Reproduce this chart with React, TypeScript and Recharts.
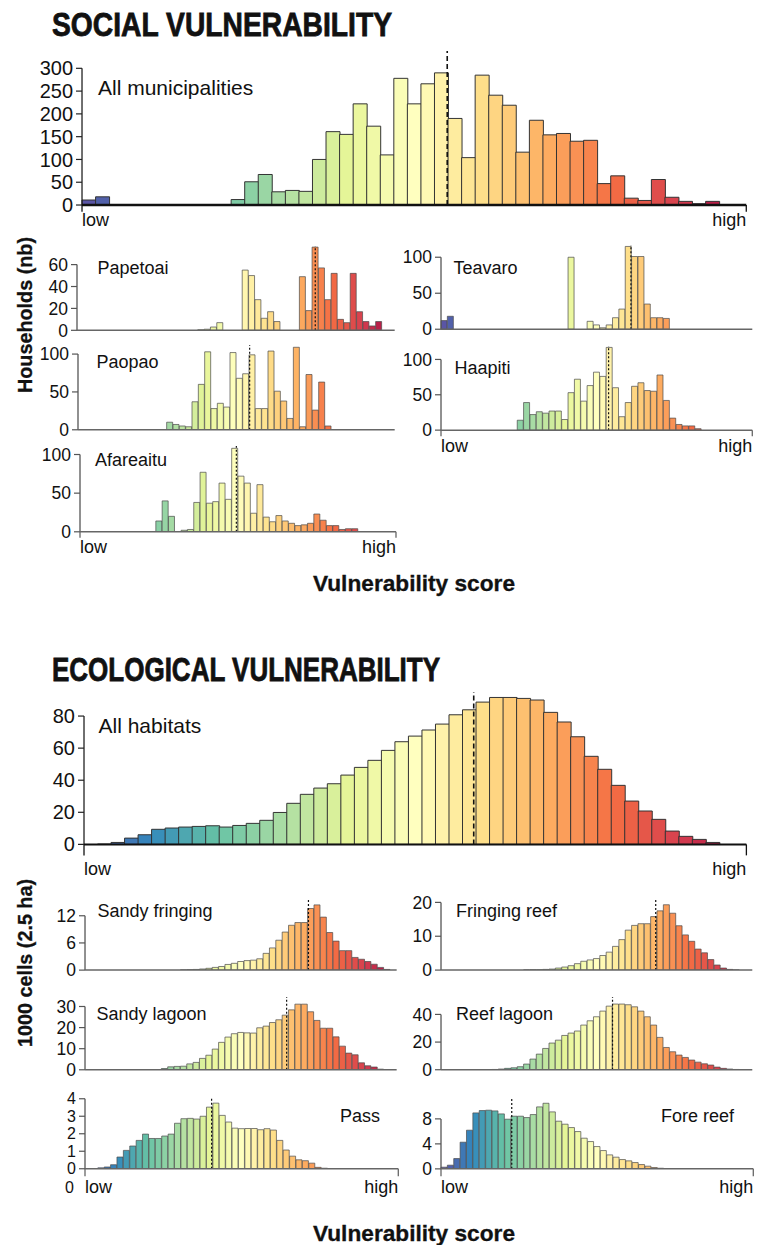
import React from 'react';
import { BarChart, Bar, XAxis, YAxis, Cell, ReferenceLine } from 'recharts';

// Spectral palette, low score -> high score
const SPECTRAL = ['#5E4FA2', '#3288BD', '#66C2A5', '#ABDDA4', '#E6F598', '#FFFFBF', '#FEE08B', '#FDAE61', '#F46D43', '#D53E4F', '#9E0142'];

// ---- social vulnerability (households per bin) ----
const socialAllStart = 0;
const socialAllCounts = [11, 18, 0, 0, 0, 0, 0, 0, 0, 0, 0, 12, 51, 67, 29, 32, 30, 100, 161, 155, 222, 173, 110, 278, 222, 266, 290, 190, 104, 285, 241, 219, 116, 186, 154, 157, 140, 142, 47, 64, 15, 10, 56, 17, 8, 3, 8];
const socialAllMean = 26.94;

const papetoaiStart = 19;
const papetoaiCounts = [0.5, 1, 3, 7, 0, 0, 0, 55, 50, 28, 11, 17, 8, 0, 0, 0, 49, 18, 76, 57, 28, 52, 10, 7, 52, 17, 8, 4, 8];
const papetoaiMean = 37.5;

const paopaoStart = 14;
const paopaoCounts = [10, 7, 5, 4, 37, 60, 103, 28, 35, 30, 102, 68, 74, 99, 28, 28, 104, 51, 38, 15, 109, 4, 73, 26, 63, 5];
const paopaoMean = 27.1;

const afareaituStart = 12;
const afareaituCounts = [14, 40, 20, 0, 2, 3, 38, 77, 37, 39, 63, 42, 108, 72, 63, 24, 61, 19, 13, 21, 14, 11, 8, 9, 11, 23, 15, 8, 8, 3, 4, 4];
const afareaituMean = 24.74;

const teavaroStart = 0;
const teavaroCounts = [12, 18, 0, 0, 0, 0, 0, 0, 0, 0, 0, 0, 0, 0, 0, 0, 0, 0, 0, 0, 100, 0, 0, 11, 6, 2, 6, 16, 28, 115, 101, 101, 35, 16, 16, 15];
const teavaroMean = 29.9;

const haapitiStart = 12;
const haapitiCounts = [14, 39, 22, 26, 24, 27, 27, 15, 53, 72, 41, 63, 82, 76, 117, 60, 19, 39, 62, 67, 56, 55, 78, 42, 17, 8, 6, 6, 2];
const haapitiMean = 26.38;

// ---- ecological vulnerability (1000 cells per bin) ----
const ecoAllStart = 0;
const ecoAllCounts = [0, 0.2, 1.2, 3.9, 6.0, 9.4, 10.2, 10.8, 11.2, 11.6, 10.8, 11.8, 13.1, 15.0, 19.9, 25.6, 31.2, 35.1, 37.8, 43.2, 48.0, 52.4, 58.6, 64.0, 67.5, 71.3, 75.0, 80.8, 83.9, 88.7, 91.6, 91.6, 91.0, 90.0, 82.3, 76.3, 67.1, 54.9, 46.8, 36.8, 27.0, 20.8, 15.6, 8.3, 5.0, 3.1, 1.2];
const ecoAllMean = 28.83;

const sandyFringingStart = 15;
const sandyFringingCounts = [0.05, 0.1, 0.15, 0.25, 0.4, 0.6, 0.8, 1.25, 1.5, 1.9, 2.1, 2.2, 2.5, 3.7, 4.9, 6.6, 8.4, 9.9, 10.5, 10.5, 13.6, 14.4, 11.7, 8.3, 6.4, 4.3, 4.3, 2.8, 2.4, 1.9, 1.3, 0.6, 0.15];
const sandyFringingMean = 35.13;

const sandyLagoonStart = 11;
const sandyLagoonCounts = [0.1, 0.6, 1.4, 1.6, 1.7, 2.8, 3.5, 5.4, 6.9, 9.8, 13.0, 15.5, 17.1, 17.7, 17.5, 17.4, 19.9, 20.7, 22.4, 23.7, 25.9, 28.4, 31.1, 31.1, 27.5, 23.4, 19.7, 19.7, 15.6, 11.2, 7.9, 7.1, 3.3, 1.9, 1.3, 0.3];
const sandyLagoonMean = 31.7;

const passStart = 2;
const passCounts = [0.05, 0.1, 0.23, 0.67, 1.05, 1.3, 1.62, 1.98, 1.73, 1.73, 1.87, 1.98, 2.6, 2.86, 2.88, 2.84, 3.0, 3.52, 3.75, 3.05, 2.67, 2.32, 2.29, 2.3, 2.3, 2.23, 2.29, 2.21, 1.62, 1.07, 0.72, 0.51, 0.46, 0.32, 0.08, 0.03];
const passMean = 19.8;

const fringingReefStart = 13;
const fringingReefCounts = [0.05, 0.1, 0.1, 0.2, 0.3, 0.6, 0.9, 1.3, 1.9, 2.6, 3.0, 3.4, 4.3, 5.3, 7.0, 9.0, 11.8, 13.2, 13.7, 13.7, 15.8, 17.5, 19.3, 16.8, 13.1, 10.4, 8.5, 6.2, 5.1, 3.1, 1.5, 0.6, 0.2, 0.05];
const fringingReefMean = 33.8;

const reefLagoonStart = 8;
const reefLagoonCounts = [0.2, 0.5, 1.0, 1.4, 2.2, 4.1, 7.7, 11.3, 15.4, 19.3, 21.4, 24.8, 26.5, 28.0, 32.3, 35.4, 38.3, 42.4, 46.0, 47.5, 47.5, 47.0, 45.5, 42.4, 38.3, 32.3, 23.4, 16.1, 13.0, 10.6, 8.9, 7.0, 5.5, 4.3, 3.4, 1.9, 1.0, 0.5, 0.2];
const reefLagoonMean = 27.0;

const foreReefStart = 0;
const foreReefCounts = [0.27, 0.59, 1.65, 4.27, 6.19, 8.96, 9.33, 9.39, 9.28, 8.8, 7.95, 8.43, 8.43, 8.21, 8.69, 9.92, 10.5, 9.12, 7.63, 7.15, 6.61, 5.97, 4.91, 4.37, 3.57, 2.93, 2.24, 1.87, 1.49, 1.28, 1.01, 0.69, 0.43, 0.21, 0.1];
const foreReefMean = 11.1;

const FONT = "'Liberation Sans', Arial, Helvetica, sans-serif";

function hexToRgb(h: string) {
  const n = parseInt(h.slice(1), 16);
  return [(n >> 16) & 255, (n >> 8) & 255, n & 255];
}

function spectralAt(t: number) {
  const s = Math.max(0, Math.min(1, t)) * (SPECTRAL.length - 1);
  const i = Math.min(Math.floor(s), SPECTRAL.length - 2);
  const f = s - i;
  const a = hexToRgb(SPECTRAL[i]);
  const b = hexToRgb(SPECTRAL[i + 1]);
  const c = a.map((v, k) => Math.round(v + (b[k] - v) * f));
  return `rgb(${c[0]},${c[1]},${c[2]})`;
}

type LowHigh = { tickLen: number; offset: number };

type PanelProps = {
  counts: number[];
  start: number;
  nBins: number;
  mean: number;
  x0: number;
  x1: number;
  y0: number;
  ppu: number;
  yMax: number;
  yTicks: number[];
  tickFont: number;
  main?: 'social' | 'eco';
  lowHigh?: LowHigh;
};

function Panel(p: PanelProps) {
  const YW = 50;
  const mt = 12;
  const mb = 14;
  const mr = 12;
  const xh = p.lowHigh ? 40 : 1;
  const plotH = p.yMax * p.ppu;
  const plotW = p.x1 - p.x0;
  const width = YW + plotW + mr;
  const height = mt + plotH + xh + mb;
  const left = p.x0 - YW;
  const top = p.y0 - plotH - mt;

  const data = Array.from({ length: p.nBins }, (_, i) => ({
    bin: i,
    pos: i + 0.5,
    v: i >= p.start && i < p.start + p.counts.length ? p.counts[i - p.start] : 0,
  }));

  const axisColor = p.main ? '#111' : '#666';
  const axisWidth = p.main === 'social' ? 2.6 : p.main === 'eco' ? 2 : 1.5;
  const yLineColor = p.main ? '#222' : '#555';
  const lh = p.lowHigh;

  const LowHighTick = (props: any) => {
    const { x, y, payload } = props;
    const isLow = payload.value === 0;
    const base = y - (lh ? lh.tickLen : 0) + (lh ? lh.offset : 0);
    return (
      <text x={x} y={base} textAnchor={isLow ? 'start' : 'end'} fontSize={18} fontFamily={FONT} fill="#111">
        {isLow ? 'low' : 'high'}
      </text>
    );
  };

  return (
    <div style={{ position: 'absolute', left, top, width, height }}>
      <BarChart
        width={width}
        height={height}
        data={data}
        margin={{ top: mt, right: mr, bottom: mb, left: 0 }}
        barCategoryGap={0}
        barGap={0}
      >
        <XAxis xAxisId="c" dataKey="bin" type="category" orientation="top" height={0} hide />
        <XAxis
          xAxisId="n"
          dataKey="pos"
          type="number"
          domain={[0, p.nBins]}
          allowDataOverflow
          height={xh}
          ticks={lh ? [0, p.nBins] : []}
          interval={0}
          tick={lh ? <LowHighTick /> : false}
          tickLine={lh ? { stroke: axisColor, strokeWidth: 1.3 } : false}
          tickSize={lh ? lh.tickLen : 0}
          tickMargin={0}
          axisLine={{ stroke: axisColor, strokeWidth: axisWidth }}
        />
        <YAxis
          width={YW}
          type="number"
          domain={[0, p.yMax]}
          allowDataOverflow
          ticks={p.yTicks}
          interval={0}
          axisLine={false}
          tickLine={{ stroke: yLineColor, strokeWidth: 1.2 }}
          tickSize={6}
          tickMargin={3}
          tick={{ fontSize: p.tickFont, fill: '#111', fontFamily: FONT }}
        />
        <Bar
          dataKey="v"
          xAxisId="c"
          isAnimationActive={false}
          stroke={p.main ? '#333' : '#4a4a4a'}
          strokeWidth={p.main ? 1 : 0.7}
        >
          {data.map((d) => (
            <Cell key={`b-${d.bin}`} fill={spectralAt((d.bin + 0.5) / p.nBins)} />
          ))}
        </Bar>
        <ReferenceLine
          xAxisId="n"
          ifOverflow="visible"
          segment={[{ x: 0, y: 0 }, { x: 0, y: p.yTicks[p.yTicks.length - 1] }]}
          stroke={yLineColor}
          strokeWidth={1.3}
        />
        <ReferenceLine
          xAxisId="n"
          x={p.mean}
          stroke="#111"
          strokeWidth={p.main ? 1.6 : 1.2}
          strokeDasharray={p.main ? '5 3' : '2 2'}
        />
      </BarChart>
    </div>
  );
}

const panelLabels = [
  { text: 'All municipalities', x: 98, y: 94.5, size: 21, anchor: 'start' },
  { text: 'Papetoai', x: 97.5, y: 273.5, size: 18, anchor: 'start' },
  { text: 'Paopao', x: 96.5, y: 367.5, size: 18, anchor: 'start' },
  { text: 'Afareaitu', x: 95, y: 466, size: 18, anchor: 'start' },
  { text: 'Teavaro', x: 453.5, y: 273.5, size: 18, anchor: 'start' },
  { text: 'Haapiti', x: 454.5, y: 373.5, size: 18, anchor: 'start' },
  { text: 'All habitats', x: 98.5, y: 732.5, size: 21, anchor: 'start' },
  { text: 'Sandy fringing', x: 97.5, y: 917, size: 18, anchor: 'start' },
  { text: 'Sandy lagoon', x: 96.5, y: 1019.5, size: 18, anchor: 'start' },
  { text: 'Fringing reef', x: 456, y: 917, size: 18, anchor: 'start' },
  { text: 'Reef lagoon', x: 456, y: 1019.5, size: 18, anchor: 'start' },
  { text: 'Pass', x: 380, y: 1122, size: 18, anchor: 'end' },
  { text: 'Fore reef', x: 734, y: 1122, size: 18, anchor: 'end' },
];

export default function App() {
  const smallLH = { tickLen: 6, offset: 21.5 };
  return (
    <div style={{ position: 'absolute', left: 0, top: 0, width: 758, height: 1245, background: '#fff', overflow: 'hidden' }}>
      {/* social */}
      <Panel counts={socialAllCounts} start={socialAllStart} nBins={49} mean={socialAllMean}
        x0={81.7} x1={746} y0={205} ppu={0.4557} yMax={338} yTicks={[0, 50, 100, 150, 200, 250, 300]}
        tickFont={20} main="social" lowHigh={{ tickLen: 6.7, offset: 21 }} />
      <Panel counts={papetoaiCounts} start={papetoaiStart} nBins={50} mean={papetoaiMean}
        x0={77.3} x1={395} y0={330} ppu={1.095} yMax={77} yTicks={[0, 20, 40, 60]} tickFont={17.5} />
      <Panel counts={paopaoCounts} start={paopaoStart} nBins={50} mean={paopaoMean}
        x0={78.3} x1={395} y0={430} ppu={0.757} yMax={112} yTicks={[0, 50, 100]} tickFont={17.5} />
      <Panel counts={afareaituCounts} start={afareaituStart} nBins={50} mean={afareaituMean}
        x0={80} x1={396} y0={531.7} ppu={0.773} yMax={111} yTicks={[0, 50, 100]} tickFont={17.5} lowHigh={smallLH} />
      <Panel counts={teavaroCounts} start={teavaroStart} nBins={49} mean={teavaroMean}
        x0={441} x1={752.3} y0={329.3} ppu={0.72} yMax={117} yTicks={[0, 50, 100]} tickFont={17.5} />
      <Panel counts={haapitiCounts} start={haapitiStart} nBins={49} mean={haapitiMean}
        x0={441} x1={752.3} y0={430} ppu={0.707} yMax={119} yTicks={[0, 50, 100]} tickFont={17.5} lowHigh={smallLH} />

      {/* ecological */}
      <Panel counts={ecoAllCounts} start={ecoAllStart} nBins={49} mean={ecoAllMean}
        x0={84.3} x1={746.7} y0={844.3} ppu={1.604} yMax={95} yTicks={[0, 20, 40, 60, 80]}
        tickFont={20} main="eco" lowHigh={{ tickLen: 11, offset: 30.4 }} />
      <Panel counts={sandyFringingCounts} start={sandyFringingStart} nBins={49} mean={sandyFringingMean}
        x0={85} x1={396.7} y0={970.3} ppu={4.53} yMax={15.7} yTicks={[0, 6, 12]} tickFont={17.5} />
      <Panel counts={sandyLagoonCounts} start={sandyLagoonStart} nBins={49} mean={sandyLagoonMean}
        x0={85} x1={396.7} y0={1070} ppu={2.11} yMax={34.5} yTicks={[0, 10, 20, 30]} tickFont={17.5} />
      <Panel counts={passCounts} start={passStart} nBins={49} mean={passMean}
        x0={84.7} x1={398} y0={1169} ppu={17.5} yMax={4.1} yTicks={[0, 1, 2, 3, 4]} tickFont={16}
        lowHigh={{ tickLen: 7.5, offset: 24 }} />
      <Panel counts={fringingReefCounts} start={fringingReefStart} nBins={49} mean={fringingReefMean}
        x0={441} x1={752.3} y0={970.3} ppu={3.385} yMax={21} yTicks={[0, 10, 20]} tickFont={17.5} />
      <Panel counts={reefLagoonCounts} start={reefLagoonStart} nBins={49} mean={reefLagoonMean}
        x0={441} x1={752.3} y0={1070} ppu={1.383} yMax={52.6} yTicks={[0, 20, 40]} tickFont={17.5} />
      <Panel counts={foreReefCounts} start={foreReefStart} nBins={49} mean={foreReefMean}
        x0={440.7} x1={753} y0={1169} ppu={6.25} yMax={11.5} yTicks={[0, 4, 8]} tickFont={17.5}
        lowHigh={{ tickLen: 7.5, offset: 24 }} />

      <svg width={758} height={1245} style={{ position: 'absolute', left: 0, top: 0, pointerEvents: 'none' }}>
        <g fontFamily={FONT} fill="#111">
          <text x={52} y={36} fontSize={33} fontWeight="bold" stroke="#111" strokeWidth={0.8} textLength={340} lengthAdjust="spacingAndGlyphs">SOCIAL VULNERABILITY</text>
          <text x={52} y={681} fontSize={33} fontWeight="bold" stroke="#111" strokeWidth={0.8} textLength={388} lengthAdjust="spacingAndGlyphs">ECOLOGICAL VULNERABILITY</text>
          <text transform="translate(31.5,315) rotate(-90)" textAnchor="middle" fontSize={21} fontWeight="bold" stroke="#111" strokeWidth={0.3} textLength={156} lengthAdjust="spacingAndGlyphs">Households (nb)</text>
          <text transform="translate(31.5,963) rotate(-90)" textAnchor="middle" fontSize={21} fontWeight="bold" stroke="#111" strokeWidth={0.3} textLength={168} lengthAdjust="spacingAndGlyphs">1000 cells (2.5 ha)</text>
          <text x={414} y={591} textAnchor="middle" fontSize={22} fontWeight="bold" stroke="#111" strokeWidth={0.3} textLength={202} lengthAdjust="spacingAndGlyphs">Vulnerability score</text>
          <text x={414} y={1241} textAnchor="middle" fontSize={22} fontWeight="bold" stroke="#111" strokeWidth={0.3} textLength={202} lengthAdjust="spacingAndGlyphs">Vulnerability score</text>
          <text x={74} y={1193} textAnchor="end" fontSize={16}>0</text>
          {panelLabels.map((l) => (
            <text key={l.text} x={l.x} y={l.y} fontSize={l.size} textAnchor={l.anchor as any}>{l.text}</text>
          ))}
        </g>
      </svg>
    </div>
  );
}
